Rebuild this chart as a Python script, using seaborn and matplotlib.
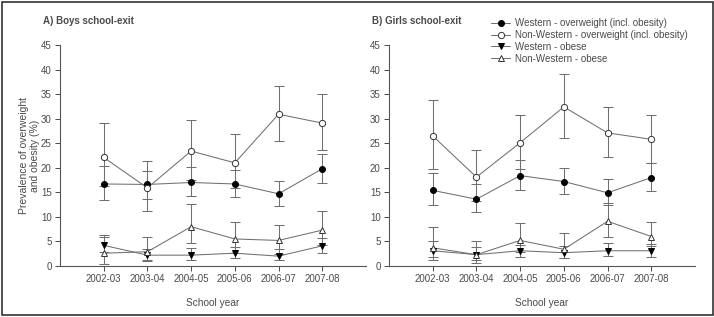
import numpy as np
import pandas as pd
import matplotlib
matplotlib.use("Agg")
import matplotlib.pyplot as plt
import seaborn as sns
from matplotlib.lines import Line2D
from matplotlib.patches import Rectangle

# School years on the x axis
years = ["2002-03", "2003-04", "2004-05", "2005-06", "2006-07", "2007-08"]

# Boys: prevalence (%) with lower / upper confidence limits
boys_w_ov = [16.7, 16.6, 17.0, 16.7, 14.7, 19.8]
boys_w_ov_lo = [13.5, 13.6, 14.2, 14.0, 12.2, 16.8]
boys_w_ov_hi = [20.3, 19.4, 20.2, 19.5, 17.4, 22.9]
boys_nw_ov = [22.1, 15.9, 23.4, 21.0, 30.9, 29.1]
boys_nw_ov_lo = [16.3, 11.2, 17.6, 15.8, 25.5, 23.6]
boys_nw_ov_hi = [29.2, 21.4, 29.8, 26.8, 36.7, 35.0]
boys_w_ob = [4.2, 2.2, 2.2, 2.6, 2.0, 4.1]
boys_w_ob_lo = [2.8, 1.3, 1.2, 1.7, 1.2, 2.7]
boys_w_ob_hi = [6.4, 3.5, 3.6, 3.9, 3.4, 5.6]
boys_nw_ob = [2.6, 2.9, 8.0, 5.5, 5.2, 7.3]
boys_nw_ob_lo = [0.5, 1.0, 4.6, 2.7, 2.4, 4.3]
boys_nw_ob_hi = [6.0, 6.0, 12.6, 9.0, 8.3, 11.1]

# Girls
girls_w_ov = [15.4, 13.6, 18.4, 17.2, 14.9, 18.0]
girls_w_ov_lo = [12.4, 10.9, 15.5, 14.6, 12.4, 15.3]
girls_w_ov_hi = [18.9, 16.6, 21.5, 20.0, 17.7, 21.0]
girls_nw_ov = [26.5, 18.1, 25.1, 32.4, 27.1, 25.8]
girls_nw_ov_lo = [19.8, 13.3, 19.8, 26.0, 22.1, 20.9]
girls_nw_ov_hi = [33.9, 23.7, 30.8, 39.1, 32.4, 30.8]
girls_w_ob = [3.1, 2.3, 3.1, 2.7, 3.1, 3.1]
girls_w_ob_lo = [1.9, 1.2, 1.9, 1.6, 2.0, 1.9]
girls_w_ob_hi = [5.0, 3.8, 4.2, 4.0, 4.7, 4.5]
girls_nw_ob = [3.7, 2.3, 5.2, 3.4, 9.1, 6.0]
girls_nw_ob_lo = [1.2, 0.6, 2.9, 1.6, 6.0, 4.0]
girls_nw_ob_hi = [7.9, 5.0, 8.7, 6.8, 12.8, 8.9]

series_names = ["Western - overweight (incl. obesity)",
                "Non-Western - overweight (incl. obesity)",
                "Western - obese",
                "Non-Western - obese"]

sns.set_style("ticks")
plt.rcParams['font.family'] = ['Liberation Sans', 'DejaVu Sans']
txt = '#4a4a4a'
line_col = '#707070'
plt.rcParams.update({'font.size': 7, 'text.color': txt, 'axes.labelcolor': txt,
                     'xtick.color': txt, 'ytick.color': txt, 'axes.edgecolor': '#555555'})

styles = {
    series_names[0]: dict(marker='o', mfc='black', mec='black', ms=4.3),
    series_names[1]: dict(marker='o', mfc='white', mec='#333333', ms=4.5),
    series_names[2]: dict(marker='v', mfc='black', mec='black', ms=4.3),
    series_names[3]: dict(marker='^', mfc='white', mec='#333333', ms=4.3),
}


def make_df(vals, los, his):
    rows = []
    for name, v, lo, hi in zip(series_names, vals, los, his):
        for i, y in enumerate(years):
            rows.append({'year': y, 'series': name, 'value': v[i], 'lo': lo[i], 'hi': hi[i]})
    return pd.DataFrame(rows)


boys = make_df([boys_w_ov, boys_nw_ov, boys_w_ob, boys_nw_ob],
               [boys_w_ov_lo, boys_nw_ov_lo, boys_w_ob_lo, boys_nw_ob_lo],
               [boys_w_ov_hi, boys_nw_ov_hi, boys_w_ob_hi, boys_nw_ob_hi])
girls = make_df([girls_w_ov, girls_nw_ov, girls_w_ob, girls_nw_ob],
                [girls_w_ov_lo, girls_nw_ov_lo, girls_w_ob_lo, girls_nw_ob_lo],
                [girls_w_ov_hi, girls_nw_ov_hi, girls_w_ob_hi, girls_nw_ob_hi])

fig = plt.figure(figsize=(7.14, 3.17), dpi=100)
ax1 = fig.add_axes([0.084, 0.161, 0.4286, 0.697])
ax2 = fig.add_axes([0.5448, 0.161, 0.4286, 0.697])


def draw(ax, df):
    x_pos = {y: i for i, y in enumerate(years)}
    for name in series_names:
        d = df[df['series'] == name]
        xs = d['year'].map(x_pos).values
        ax.errorbar(xs, d['value'], yerr=[d['value'] - d['lo'], d['hi'] - d['value']],
                    fmt='none', ecolor=line_col, elinewidth=0.75, capsize=3.5,
                    capthick=0.75, zorder=1)
    sns.lineplot(data=df, x='year', y='value', hue='series', palette=[line_col] * 4,
                 legend=False, linewidth=0.75, ax=ax, zorder=2, sort=False)
    for name in series_names:
        d = df[df['series'] == name]
        xs = d['year'].map(x_pos).values
        ax.plot(xs, d['value'], linestyle='none', zorder=3, mew=0.7, **styles[name])
    ax.set_xlim(-1, 6)
    ax.set_ylim(0, 45)
    ax.set_yticks(range(0, 50, 5))
    ax.set_xticks(range(len(years)))
    ax.set_xticklabels(years)
    ax.set_xlabel('School year', labelpad=10, fontsize=7.3)
    ax.tick_params(length=3.5, width=0.7, pad=2.5)
    sns.despine(ax=ax)
    for s in ['left', 'bottom']:
        ax.spines[s].set_linewidth(0.8)


draw(ax1, boys)
draw(ax2, girls)
ax1.set_ylabel('Prevalence of overweight\nand obesity (%)', labelpad=1, linespacing=1.05,
               fontsize=7.5)
ax2.set_ylabel('')

fig.text(43 / 714, 1 - 21 / 317, 'A) Boys school-exit', fontweight='bold', fontsize=7,
         va='center', ha='left')
fig.text(372 / 714, 1 - 21 / 317, 'B) Girls school-exit', fontweight='bold', fontsize=7,
         va='center', ha='left')

handles = [Line2D([0], [0], color=line_col, lw=0.75, mew=0.7, **styles[n]) for n in series_names]
fig.legend(handles, series_names, loc='upper left', bbox_to_anchor=(491 / 714, 1 - 18 / 317),
           frameon=False, fontsize=7, handlelength=2.0, handletextpad=0.5,
           labelspacing=0.2, borderpad=0, borderaxespad=0)

fig.patches.append(Rectangle((2 / 714, 2 / 317), 711 / 714, 313 / 317, transform=fig.transFigure,
                             fill=False, edgecolor='#333333', linewidth=1.2))

fig.savefig('out.png', dpi=100)
